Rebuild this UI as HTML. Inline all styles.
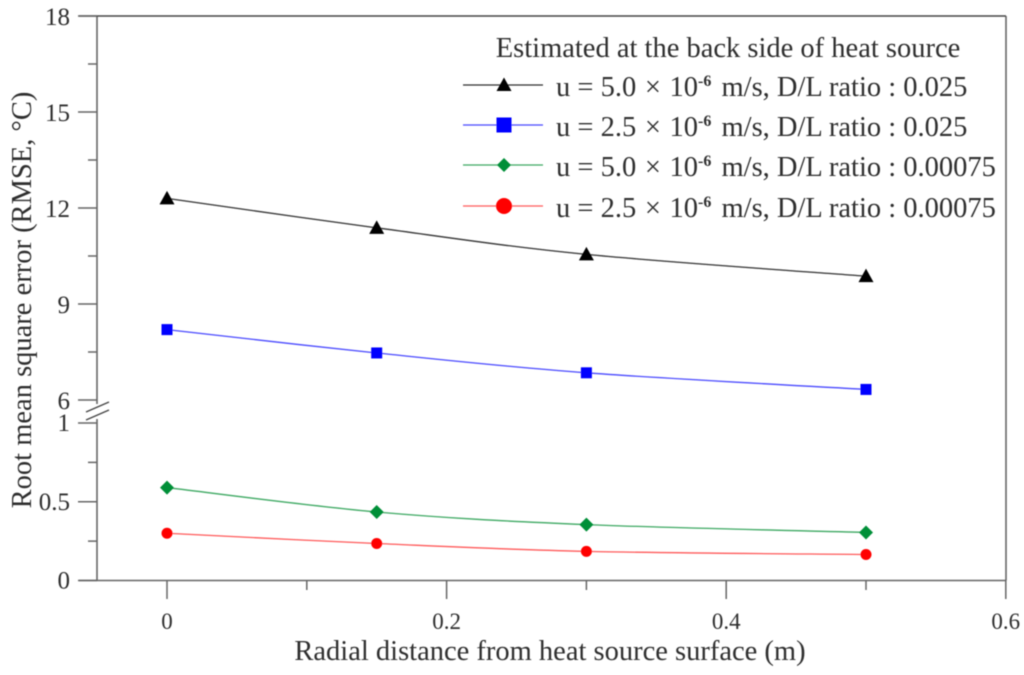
<!DOCTYPE html>
<html>
<head>
<meta charset="utf-8">
<title>RMSE vs radial distance</title>
<style>
html,body{margin:0;padding:0;background:#fff;}
svg{display:block;}
text{font-family:"Liberation Serif",serif;fill:#2e2e2e;}
</style>
</head>
<body>
<svg id="chart" xmlns="http://www.w3.org/2000/svg" width="1024" height="675" viewBox="0 0 1024 675">
<defs><filter id="soft" x="-2%" y="-2%" width="104%" height="104%"><feGaussianBlur stdDeviation="0.5"/></filter></defs>
<g id="root" filter="url(#soft)"></g>
</svg>
<script>
const distances = [0, 0.15, 0.3, 0.5];
const seriesBlack = [12.3, 11.38, 10.55, 9.87];
const seriesBlue = [8.2, 7.47, 6.85, 6.33];
const seriesGreen = [0.59, 0.435, 0.355, 0.305];
const seriesRed = [0.3, 0.235, 0.185, 0.165];
const xMajorTicks = [0, 0.2, 0.4, 0.6];
const xMinorTicks = [0.1, 0.3, 0.5];
const yUpperMajorTicks = [6, 9, 12, 15, 18];
const yUpperMinorTicks = [7.5, 10.5, 13.5, 16.5];
const yLowerMajorTicks = [0, 0.5, 1];
const yLowerMinorTicks = [0.25, 0.75];
const legendLabels = ["u = 5.0 |\u00d7| 10|m/s, D/L ratio : 0.025", "u = 2.5 |\u00d7| 10|m/s, D/L ratio : 0.025", "u = 5.0 |\u00d7| 10|m/s, D/L ratio : 0.00075", "u = 2.5 |\u00d7| 10|m/s, D/L ratio : 0.00075"];

const root = document.getElementById('root');
const NS = 'http://www.w3.org/2000/svg';
function X(v){ return 167 + v * 1398; }
function YU(v){ return 400 - (v - 6) * 32; }
function YL(v){ return 580.5 - v * 157.5; }
function mk(tag, attrs, name){
  const el = document.createElementNS(NS, tag);
  for (const k in attrs) el.setAttribute(k, attrs[k]);
  
  
  root.appendChild(el);
  return el;
}
function line(x1,y1,x2,y2,stroke,w,name){
  return mk('line',{x1:x1,y1:y1,x2:x2,y2:y2,stroke:stroke,'stroke-width':w},name);
}
function label(x,y,str,size,anchor,name){
  const t = mk('text',{x:x,y:y,'font-size':size,'text-anchor':anchor},name);
  t.textContent = str;
  return t;
}
const AX = '#666';
// frame
line(97,16,97,404,AX,1.6,'y-axis-upper');
line(97,419,97,580.5,AX,1.6,'y-axis-lower');
line(1006,16,1006,580.5,AX,1.6,'right-border');
line(79,16,1006,16,'#444',1.4,'top-border');
line(79,580.5,1006,580.5,AX,1.6,'x-axis');
// axis break
line(86,412,109,402,'#444',1.3,'axis-break-upper');
line(86,420,109,410,'#444',1.3,'axis-break-lower');
// ticks
xMajorTicks.forEach(function(v){
  line(X(v),580.5,X(v),599,AX,1.5,'x-major-tick');
  label(X(v),629,String(v),23,'middle','x-tick-label');
});
xMinorTicks.forEach(function(v){ line(X(v),580.5,X(v),590,AX,1.5,'x-minor-tick'); });
yUpperMajorTicks.forEach(function(v){
  line(78,YU(v),97,YU(v),AX,1.5,'y-major-tick');
  label(70,YU(v)+9,String(v),25,'end','y-tick-label');
});
yUpperMinorTicks.forEach(function(v){ line(88,YU(v),97,YU(v),AX,1.5,'y-minor-tick'); });
yLowerMajorTicks.forEach(function(v){
  line(78,YL(v),97,YL(v),AX,1.5,'y-major-tick');
  label(70,YL(v)+8,String(v),25,'end','y-tick-label');
});
yLowerMinorTicks.forEach(function(v){ line(88,YL(v),97,YL(v),AX,1.5,'y-minor-tick'); });
// titles
label(550,660,'Radial distance from heat source surface (m)',28.5,'middle','x-axis-title');
const yt = label(0,0,'Root mean square error (RMSE, \u00b0C)',28.5,'middle','y-axis-title');
yt.setAttribute('transform','translate(31,300) rotate(-90)');
// curve through points
function smooth(pts){
  let d = 'M' + pts[0][0] + ' ' + pts[0][1];
  for (let i = 0; i < pts.length - 1; i++){
    const p0 = pts[Math.max(i-1,0)], p1 = pts[i], p2 = pts[i+1], p3 = pts[Math.min(i+2,pts.length-1)];
    const c1x = p1[0] + (p2[0]-p0[0])/6, c1y = p1[1] + (p2[1]-p0[1])/6;
    const c2x = p2[0] - (p3[0]-p1[0])/6, c2y = p2[1] - (p3[1]-p1[1])/6;
    d += 'C' + c1x + ' ' + c1y + ' ' + c2x + ' ' + c2y + ' ' + p2[0] + ' ' + p2[1];
  }
  return d;
}
function marker(kind,x,y,r,color,name){
  if (kind === 'triangle') return mk('polygon',{points:(x-r)+','+(y+r*0.8)+' '+(x+r)+','+(y+r*0.8)+' '+x+','+(y-r*1.0),fill:color},name);
  if (kind === 'square') return mk('rect',{x:x-r,y:y-r,width:2*r,height:2*r,fill:color},name);
  if (kind === 'diamond') return mk('polygon',{points:(x-r)+','+y+' '+x+','+(y-r)+' '+(x+r)+','+y+' '+x+','+(y+r),fill:color},name);
  return mk('circle',{cx:x,cy:y,r:r,fill:color},name);
}
function drawSeries(values,yFn,kind,r,color,lineColor,name){
  const pts = values.map(function(v,i){ return [X(distances[i]),yFn(v)]; });
  mk('path',{d:smooth(pts),fill:'none',stroke:lineColor,'stroke-width':1.3},name+'-line');
  pts.forEach(function(p){ marker(kind,p[0],p[1],r,color,name+'-point'); });
}
const lineBlack = '#333', lineBlue = '#4a4aff', lineGreen = '#3da862', lineRed = '#ff5a5a';
drawSeries(seriesBlack,YU,'triangle',7.5,'#000',lineBlack,'series-black');
drawSeries(seriesBlue,YU,'square',5.5,'#0000ff',lineBlue,'series-blue');
drawSeries(seriesGreen,YL,'diamond',7,'#008f39',lineGreen,'series-green');
drawSeries(seriesRed,YL,'circle',5.5,'#ff0000',lineRed,'series-red');
// legend
label(728,57,'Estimated at the back side of heat source',28.5,'middle','legend-title');
const legKinds = ['triangle','square','diamond','circle'];
const legColors = ['#000','#0000ff','#008f39','#ff0000'];
const legLines = [lineBlack,lineBlue,lineGreen,lineRed];
const legNames = ['legend-entry-black','legend-entry-blue','legend-entry-green','legend-entry-red'];
const legY = [85,125,165,206];
const legR = [7.5,7.5,7,8];
function span(parent,str,attrs){
  const s = document.createElementNS(NS,'tspan');
  for (const k in attrs) s.setAttribute(k,attrs[k]);
  s.textContent = str;
  parent.appendChild(s);
}
legendLabels.forEach(function(str,i){
  line(463,legY[i],543,legY[i],legLines[i],1.3,legNames[i]+'-line');
  marker(legKinds[i],504,legY[i],legR[i],legColors[i],legNames[i]+'-marker');
  const parts = str.split('|');
  const t = mk('text',{x:556,y:legY[i]+11,'font-size':28.5},legNames[i]);
  span(t,parts[0],{});
  span(t,parts[1],{dx:'1.5'});
  span(t,parts[2],{dx:'1.5'});
  span(t,'-6',{dy:'-10','font-size':'16','font-weight':'bold'});
  span(t,' ' + parts[3],{dy:'10',dx:'3'});
});
</script>
</body>
</html>
